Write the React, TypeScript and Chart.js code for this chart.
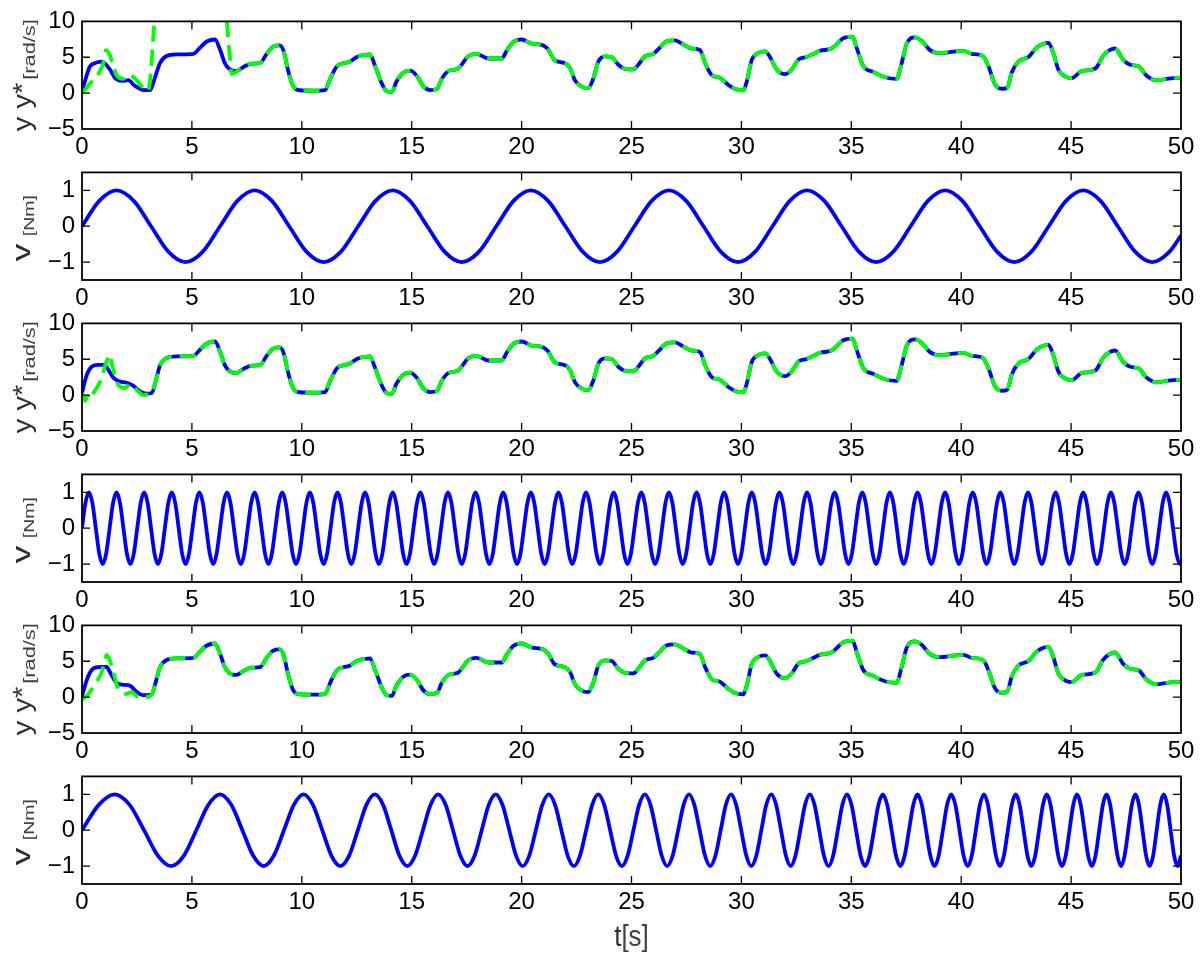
import React, { useEffect, useRef } from "react";
import { Chart, registerables } from "chart.js";

Chart.register(...registerables);

type Pt = [number, number];

// ---------- axes ----------
const X_TICKS = [0, 5, 10, 15, 20, 25, 30, 35, 40, 45, 50];
const Y_TICKS = [-5, 0, 5, 10];
const V_TICKS = [-1, 0, 1];

// ---------- y / y* : shared part after the start-up transient (t, value) ----------
const Y_TAIL: Pt[] = [
  [3.55, 4.17], [3.85, 5.17], [4.3, 5.4], [5.07, 5.48], [5.37, 6.35], [5.68, 7.2], [6.05, 7.48],
  [6.3, 5.9], [6.5, 4.17], [6.8, 3.2], [7.04, 3.1], [7.4, 3.74], [7.72, 4.1], [8.1, 4.17],
  [8.4, 5.48], [8.7, 6.48], [9.0, 6.65], [9.17, 5.9], [9.4, 2.87], [9.62, 0.9], [9.92, 0.4],
  [10.5, 0.35], [11.06, 0.43], [11.29, 2.0], [11.6, 3.74], [11.9, 4.17], [12.2, 4.4], [12.5, 5.04],
  [12.9, 5.35], [13.1, 5.4], [13.34, 3.74], [13.64, 1.35], [13.87, 0.26], [14.1, 0.17], [14.3, 1.57],
  [14.63, 2.87], [14.93, 3.13], [15.23, 2.43], [15.54, 0.91], [15.84, 0.43], [16.15, 0.57],
  [16.37, 2.0], [16.68, 3.1], [17.1, 3.4], [17.57, 5.13], [17.95, 5.48], [18.48, 4.83], [19.1, 4.83],
  [19.32, 5.9], [19.62, 7.13], [20.0, 7.48], [20.46, 6.9], [20.99, 6.65], [21.2, 6.13], [21.5, 4.6],
  [21.97, 4.17], [22.2, 3.52], [22.43, 1.78], [22.73, 0.91], [23.03, 0.7], [23.26, 2.0], [23.49, 4.39],
  [23.8, 5.13], [24.1, 5.04], [24.4, 3.96], [24.7, 3.39], [25.08, 3.3], [25.31, 3.96], [25.61, 5.13],
  [25.99, 5.48], [26.22, 6.13], [26.6, 7.22], [26.98, 7.35], [27.36, 6.78], [27.74, 6.22], [28.12, 6.0],
  [28.35, 4.17], [28.65, 2.52], [29.03, 2.13], [29.41, 1.13], [29.71, 0.57], [30.09, 0.39], [30.24, 1.57],
  [30.47, 4.6], [30.77, 5.6], [31.08, 5.83], [31.3, 5.04], [31.6, 3.3], [31.99, 2.65], [32.29, 3.3],
  [32.6, 4.7], [32.97, 5.04], [33.28, 5.48], [33.57, 5.9], [34.1, 6.22], [34.64, 7.65], [35.06, 7.87],
  [35.24, 6.35], [35.55, 3.74], [36.0, 2.96], [36.53, 2.22], [37.06, 2.0], [37.29, 4.17], [37.52, 6.87],
  [37.9, 7.78], [38.2, 7.3], [38.58, 6.0], [39.04, 5.57], [39.64, 5.78], [40.1, 5.9], [40.48, 5.48],
  [41.0, 5.17], [41.24, 3.74], [41.54, 1.22], [41.84, 0.61], [42.1, 0.78], [42.3, 2.87], [42.6, 4.39],
  [43.06, 5.04], [43.44, 6.35], [43.97, 7.0], [44.2, 5.5], [44.42, 3.3], [44.8, 2.22], [45.03, 2.09],
  [45.49, 3.09], [46.1, 3.43], [46.47, 5.26], [47.0, 6.22], [47.38, 4.6], [47.69, 3.96], [48.07, 3.74],
  [48.44, 2.43], [48.9, 1.78], [49.35, 2.0], [50.0, 2.17],
];

// ---------- start-up transients, per panel ----------
const Y1_HEAD: Pt[] = [
  [0, 0.2], [0.21, 2.43], [0.36, 3.7], [0.67, 4.26], [0.9, 4.4], [1.27, 3.3], [1.5, 2.1],
  [1.8, 1.7], [2.1, 1.8], [2.4, 1.04], [2.8, 0.43], [3.1, 0.43], [3.3, 2.0],
];
const YS1_HEAD: Pt[] = [
  [0, 0.04], [0.15, 0.5], [0.36, 1.35], [0.6, 2.0], [0.82, 3.1], [0.97, 4.2], [1.09, 6.0],
  [1.27, 5.26], [1.43, 3.74], [1.58, 2.43], [1.88, 2.0], [2.1, 2.52], [2.34, 2.22], [2.56, 1.57],
  [2.79, 0.7], [3.02, 0.35], [3.13, 2.87], [3.25, 8.1], [3.35, 12], [3.5, 14], [6.5, 14],
  [6.6, 9.8], [6.74, 4.6], [6.81, 2.65], [6.97, 2.87],
];
const Y3_HEAD: Pt[] = [
  [0, 0.3], [0.21, 2.75], [0.44, 3.96], [0.74, 4.22], [0.97, 4.22], [1.12, 3.87], [1.43, 2.44],
  [1.65, 1.96], [2.03, 1.73], [2.34, 1.29], [2.64, 0.53], [2.94, 0.22], [3.17, 0.31], [3.4, 2.53],
];
const YS3_HEAD: Pt[] = [
  [0, 0.3], [0.14, -0.8], [0.24, -0.13], [0.36, -0.58], [0.52, 0.31], [0.67, 0.98], [0.82, 1.87],
  [0.97, 3.2], [1.09, 4.53], [1.2, 5.2], [1.27, 5.64], [1.35, 4.5], [1.5, 2.75], [1.65, 1.42],
  [1.96, 0.98], [2.19, 1.56], [2.34, 1.2], [2.56, 0.53], [2.79, 0.0], [3.0, 0.1], [3.17, 0.31],
  [3.4, 2.53],
];
const Y5_HEAD: Pt[] = [
  [0, 0.14], [0.24, 2.6], [0.52, 4.0], [0.82, 4.2], [1.12, 4.2], [1.27, 3.5], [1.58, 1.95],
  [1.88, 1.72], [2.19, 1.58], [2.49, 0.72], [2.79, 0.27], [3.17, 0.36], [3.32, 1.72],
];
const YS5_HEAD: Pt[] = [
  [0, -0.3], [0.21, 0.14], [0.44, 1.04], [0.67, 2.17], [0.9, 3.5], [1.05, 5.3], [1.12, 5.9],
  [1.27, 5.1], [1.43, 3.5], [1.58, 1.72], [1.8, 0.72], [2.03, 0.45], [2.26, 0.72], [2.49, 0.14],
  [2.72, -0.1], [2.94, 0.0], [3.17, 0.36], [3.32, 1.72],
];

// ---------- v signals ----------
const H = 0.707;
// panel 2: sampled every 0.7854 s
const V2_STEP = 0.7854;
const V2_VALUES = [
  0, H, 1, H, 0, -H, -1, -H, 0, H, 1, H, 0, -H, -1, -H,
  0, H, 1, H, 0, -H, -1, -H, 0, H, 1, H, 0, -H, -1, -H,
  0, H, 1, H, 0, -H, -1, -H, 0, H, 1, H, 0, -H, -1, -H,
  0, H, 1, H, 0, -H, -1, -H, 0, H, 1, H, 0, -H, -1, -H,
];
const V2_END: Pt = [50, -0.26];

// panel 4: sampled every 0.15708 s
const V4_STEP = 0.15708;
const V4_VALUES = [
  0, H, 1, H, 0, -H, -1, -H, 0, H, 1, H, 0, -H, -1, -H, 0, H, 1, H, 0, -H, -1, -H,
  0, H, 1, H, 0, -H, -1, -H, 0, H, 1, H, 0, -H, -1, -H, 0, H, 1, H, 0, -H, -1, -H,
  0, H, 1, H, 0, -H, -1, -H, 0, H, 1, H, 0, -H, -1, -H, 0, H, 1, H, 0, -H, -1, -H,
  0, H, 1, H, 0, -H, -1, -H, 0, H, 1, H, 0, -H, -1, -H, 0, H, 1, H, 0, -H, -1, -H,
  0, H, 1, H, 0, -H, -1, -H, 0, H, 1, H, 0, -H, -1, -H, 0, H, 1, H, 0, -H, -1, -H,
  0, H, 1, H, 0, -H, -1, -H, 0, H, 1, H, 0, -H, -1, -H, 0, H, 1, H, 0, -H, -1, -H,
  0, H, 1, H, 0, -H, -1, -H, 0, H, 1, H, 0, -H, -1, -H, 0, H, 1, H, 0, -H, -1, -H,
  0, H, 1, H, 0, -H, -1, -H, 0, H, 1, H, 0, -H, -1, -H, 0, H, 1, H, 0, -H, -1, -H,
  0, H, 1, H, 0, -H, -1, -H, 0, H, 1, H, 0, -H, -1, -H, 0, H, 1, H, 0, -H, -1, -H,
  0, H, 1, H, 0, -H, -1, -H, 0, H, 1, H, 0, -H, -1, -H, 0, H, 1, H, 0, -H, -1, -H,
  0, H, 1, H, 0, -H, -1, -H, 0, H, 1, H, 0, -H, -1, -H, 0, H, 1, H, 0, -H, -1, -H,
  0, H, 1, H, 0, -H, -1, -H, 0, H, 1, H, 0, -H, -1, -H, 0, H, 1, H, 0, -H, -1, -H,
  0, H, 1, H, 0, -H, -1, -H, 0, H, 1, H, 0, -H, -1, -H, 0, H, 1, H, 0, -H, -1, -H,
  0, H, 1, H, 0, -H, -1,
];
const V4_END: Pt = [50, -0.97];

// panel 6: chirp, (t, value) at zero crossings, extrema and half-way points
const V6: Pt[] = [
  [0, 0], [0.762, H], [1.483, 1], [2.168, H], [2.823, 0], [3.451, -H], [4.055, -1],
  [4.638, -H], [5.201, 0], [5.747, H], [6.278, 1], [6.793, H], [7.296, 0],
  [7.786, -H], [8.264, -1], [8.732, -H], [9.189, 0], [9.637, H], [10.076, 1],
  [10.507, H], [10.93, 0], [11.345, -H], [11.753, -1], [12.155, -H], [12.55, 0],
  [12.939, H], [13.322, 1], [13.699, H], [14.071, 0], [14.438, -H], [14.8, -1],
  [15.157, -H], [15.51, 0], [15.859, H], [16.203, 1], [16.543, H], [16.879, 0],
  [17.211, -H], [17.54, -1], [17.865, -H], [18.186, 0], [18.505, H], [18.82, 1],
  [19.132, H], [19.44, 0], [19.746, -H], [20.049, -1], [20.35, -H], [20.647, 0],
  [20.942, H], [21.234, 1], [21.523, H], [21.811, 0], [22.095, -H], [22.379, -1], [22.658, -H],
  [22.937, 0], [23.212, H], [23.487, 1], [23.758, H], [24.029, 0], [24.296, -H], [24.562, -1],
  [24.825, -H], [25.088, 0], [25.348, H], [25.607, 1], [25.863, H], [26.119, 0], [26.372, -H],
  [26.624, -1], [26.874, -H], [27.123, 0], [27.369, H], [27.615, 1], [27.859, H], [28.102, 0],
  [28.343, -H], [28.583, -1], [28.821, -H], [29.058, 0], [29.293, H], [29.528, 1], [29.76, H],
  [29.992, 0], [30.222, -H], [30.452, -1], [30.68, -H], [30.907, 0], [31.132, H], [31.357, 1],
  [31.58, H], [31.802, 0], [32.023, -H], [32.243, -1], [32.462, -H], [32.68, 0], [32.896, H],
  [33.112, 1], [33.327, H], [33.541, 0], [33.753, -H], [33.965, -1], [34.176, -H], [34.386, 0],
  [34.595, H], [34.803, 1], [35.01, H], [35.216, 0], [35.421, -H], [35.626, -1], [35.829, -H],
  [36.032, 0], [36.234, H], [36.435, 1], [36.635, H], [36.835, 0], [37.033, -H], [37.231, -1],
  [37.428, -H], [37.624, 0], [37.82, H], [38.015, 1], [38.209, H], [38.402, 0], [38.594, -H],
  [38.786, -1], [38.977, -H], [39.167, 0], [39.357, H], [39.546, 1], [39.734, H], [39.922, 0],
  [40.109, -H], [40.295, -1], [40.481, -H], [40.666, 0], [40.85, H], [41.034, 1], [41.217, H],
  [41.399, 0], [41.581, -H], [41.763, -1], [41.943, -H], [42.123, 0], [42.302, H], [42.481, 1],
  [42.659, H], [42.837, 0], [43.014, -H], [43.191, -1], [43.367, -H], [43.543, 0], [43.718, H],
  [43.892, 1], [44.066, H], [44.239, 0], [44.412, -H], [44.584, -1], [44.756, -H], [44.927, 0],
  [45.098, H], [45.268, 1], [45.438, H], [45.607, 0], [45.776, -H], [45.944, -1], [46.112, -H],
  [46.279, 0], [46.446, H], [46.612, 1], [46.778, H], [46.943, 0], [47.108, -H], [47.272, -1],
  [47.436, -H], [47.6, 0], [47.763, H], [47.926, 1], [48.088, H], [48.25, 0], [48.411, -H],
  [48.572, -1], [48.733, -H], [48.893, 0], [49.053, H], [49.212, 1], [49.371, H], [49.529, 0],
  [49.687, -H], [49.845, -1], [50, -0.71],
];

// ---------- styling ----------
const FONT = "'Liberation Sans', Arial, Helvetica, sans-serif";
const BLUE = "#0000ff";
const GREEN = "#00ff00";
const PAGE_W = 1204;
const PAGE_H = 954;
const PLOT_LEFT = 82;
const PLOT_RIGHT = 1181;
const PANEL_TOPS = [15, 166, 317, 468, 619, 770];
const PLOT_H = 114;
const PAD_TOP = 15;

const fmt = (v: number) => (v < 0 ? "\u2212" + Math.abs(v) : String(v));

function drawFitted(ctx: any, text: string, font: string, color: string, from: number, to: number, dy: number) {
  ctx.save();
  ctx.font = font;
  const w = ctx.measureText(text).width;
  ctx.translate(from, dy);
  ctx.scale((to - from) / w, 1);
  ctx.fillStyle = color;
  ctx.fillText(text, 0, 0);
  ctx.restore();
}

const framePlugin = {
  id: "frame",
  afterDatasetsDraw(chart: any, _args: any, opts: any) {
    const { ctx, chartArea: a, scales } = chart;
    ctx.save();
    ctx.strokeStyle = "#000";
    ctx.lineWidth = 1.3;
    ctx.beginPath();
    for (const t of scales.x.ticks) {
      const px = scales.x.getPixelForValue(t.value);
      if (px <= a.left + 1 || px >= a.right - 1) continue;
      ctx.moveTo(px, a.bottom);
      ctx.lineTo(px, a.bottom - 8);
      ctx.moveTo(px, a.top);
      ctx.lineTo(px, a.top + 8);
    }
    for (const t of scales.y.ticks) {
      const py = scales.y.getPixelForValue(t.value);
      if (py <= a.top + 1 || py >= a.bottom - 1) continue;
      ctx.moveTo(a.left, py);
      ctx.lineTo(a.left + 8, py);
      ctx.moveTo(a.right, py);
      ctx.lineTo(a.right - 8, py);
    }
    ctx.stroke();
    ctx.lineWidth = 1.8;
    ctx.strokeRect(a.left, a.top, a.right - a.left, a.bottom - a.top);

    // y title (rotated): main part and unit part, each fitted to its span
    if (opts && opts.main) {
      ctx.save();
      ctx.translate(opts.baseX, (a.top + a.bottom) / 2);
      ctx.rotate(-Math.PI / 2);
      ctx.textAlign = "left";
      ctx.textBaseline = "alphabetic";
      drawFitted(ctx, opts.main, `${opts.mainSize}px ${FONT}`, "#2e2e2e", opts.mainSpan[0], opts.mainSpan[1], 0);
      drawFitted(ctx, opts.unit, `${opts.unitSize}px ${FONT}`, "#404040", opts.unitSpan[0], opts.unitSpan[1], opts.unitDy);
      ctx.restore();
    }
    if (opts && opts.xTitle) {
      ctx.save();
      ctx.textBaseline = "alphabetic";
      ctx.textAlign = "left";
      const f1 = `26px ${FONT}`;
      ctx.font = f1;
      const w1 = ctx.measureText(opts.xTitle).width;
      const w2 = ctx.measureText(opts.xUnit).width;
      const cx = (a.left + a.right) / 2;
      const x0 = cx - (w1 + w2) / 2;
      ctx.translate(x0, a.bottom + opts.xTitleDy);
      ctx.scale(1, 1.12);
      ctx.fillStyle = "#2e2e2e";
      ctx.fillText(opts.xTitle, 0, 0);
      ctx.fillStyle = "#404040";
      ctx.fillText(opts.xUnit, w1, 0);
      ctx.restore();
    }
    ctx.restore();
  },
};

type Series = { points: Pt[]; color: string; dash?: number[] };

type PanelProps = {
  index: number;
  kind: "y" | "v";
  series: Series[];
  last?: boolean;
};

function Panel({ index, kind, series, last }: PanelProps) {
  const ref = useRef<HTMLCanvasElement | null>(null);
  const padBottom = last ? PAGE_H - (PANEL_TOPS[index] + PLOT_H) : 36;
  const canvasTop = PANEL_TOPS[index] - PAD_TOP;
  const height = PAD_TOP + PLOT_H + padBottom;

  useEffect(() => {
    if (!ref.current) return;
    const yTicks = kind === "y" ? Y_TICKS : V_TICKS;
    const frameOpts: any =
      kind === "y"
        ? { main: "y y*", unit: "[rad/s]", mainSize: 25, unitSize: 16, baseX: 31, unitDy: 3.5, mainSpan: [-56, -7.5], unitSpan: [-4.5, 56] }
        : { main: "v", unit: "[Nm]", mainSize: 25, unitSize: 15, baseX: 30, unitDy: 3.5, mainSpan: [-35, -17.5], unitSpan: [-10, 31] };
    if (last) {
      frameOpts.xTitle = "t";
      frameOpts.xUnit = "[s]";
      frameOpts.xTitleDy = 62;
    }
    const chart = new Chart(ref.current, {
      type: "line",
      data: {
        datasets: series.map((s) => ({
          data: s.points.map(([x, y]) => ({ x, y })),
          borderColor: s.color,
          borderWidth: 3.8,
          borderDash: s.dash || [],
          borderCapStyle: "butt",
          pointRadius: 0,
          cubicInterpolationMode: "monotone",
          fill: false,
        })),
      } as any,
      options: {
        responsive: false,
        animation: false,
        devicePixelRatio: 1,
        events: [],
        layout: { padding: { left: 0, right: PAGE_W - PLOT_RIGHT, top: PAD_TOP, bottom: 0 } },
        plugins: {
          legend: { display: false },
          tooltip: { enabled: false },
          frame: frameOpts,
        } as any,
        scales: {
          x: {
            type: "linear",
            min: 0,
            max: 50,
            afterBuildTicks: (s: any) => {
              s.ticks = X_TICKS.map((v) => ({ value: v }));
            },
            afterFit: (s: any) => {
              s.height = padBottom;
            },
            grid: { display: false, drawTicks: false },
            border: { display: false },
            ticks: {
              padding: 4,
              autoSkip: false,
              maxRotation: 0,
              color: "#000",
              font: { family: FONT, size: 24 },
              callback: (v: any) => fmt(Number(v)),
            },
          },
          y: {
            type: "linear",
            min: kind === "y" ? -5 : -1.5,
            max: kind === "y" ? 10 : 1.5,
            afterBuildTicks: (s: any) => {
              s.ticks = yTicks.map((v) => ({ value: v }));
            },
            afterFit: (s: any) => {
              s.width = PLOT_LEFT;
            },
            grid: { display: false, drawTicks: false },
            border: { display: false },
            ticks: {
              padding: 7,
              color: "#000",
              font: { family: FONT, size: 24 },
              callback: (v: any) => fmt(Number(v)),
            },
          },
        },
      } as any,
      plugins: [framePlugin],
    });
    return () => chart.destroy();
  }, []);

  return (
    <canvas
      ref={ref}
      width={PAGE_W}
      height={height}
      style={{ position: "absolute", left: 0, top: canvasTop, width: PAGE_W, height }}
    />
  );
}

// the first dataset is drawn on top in Chart.js, so y* (green) goes first
const ySeries = (head: Pt[], starHead: Pt[], starFrom: number): Series[] => [
  { points: starHead.concat(Y_TAIL.filter((p) => p[0] >= starFrom)), color: GREEN, dash: [16, 8] },
  { points: head.concat(Y_TAIL), color: BLUE },
];

const V2_POINTS: Pt[] = V2_VALUES.map((v, i) => [i * V2_STEP, v] as Pt).concat([V2_END]);
const V4_POINTS: Pt[] = V4_VALUES.map((v, i) => [i * V4_STEP, v] as Pt).concat([V4_END]);

export default function App() {
  return (
    <div style={{ position: "absolute", left: 0, top: 0, width: PAGE_W, height: PAGE_H, background: "#fff", overflow: "hidden" }}>
      <Panel index={0} kind="y" series={ySeries(Y1_HEAD, YS1_HEAD, 7.3)} />
      <Panel index={1} kind="v" series={[{ points: V2_POINTS, color: BLUE }]} />
      <Panel index={2} kind="y" series={ySeries(Y3_HEAD, YS3_HEAD, 3.5)} />
      <Panel index={3} kind="v" series={[{ points: V4_POINTS, color: BLUE }]} />
      <Panel index={4} kind="y" series={ySeries(Y5_HEAD, YS5_HEAD, 3.5)} />
      <Panel index={5} kind="v" series={[{ points: V6, color: BLUE }]} last />
    </div>
  );
}
